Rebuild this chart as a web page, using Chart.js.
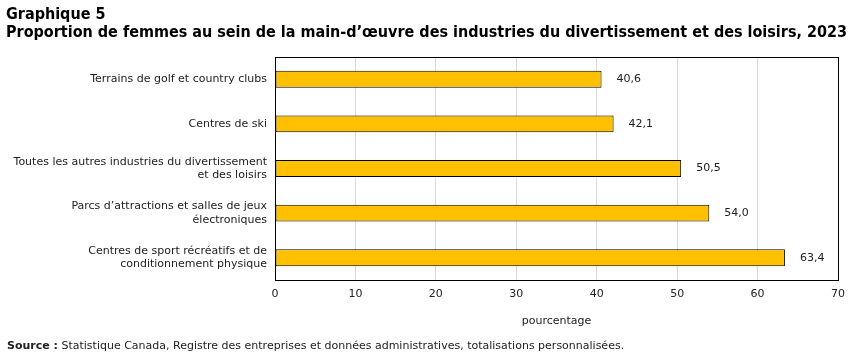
<!DOCTYPE html>
<html>
<head>
<meta charset="utf-8">
<script src="https://cdn.jsdelivr.net/npm/chart.js@4.4.1/dist/chart.umd.min.js"></script>
<style>
  body { margin: 0; background: #fff; }
  #wrap { position: relative; width: 862px; height: 360px; overflow: hidden; }
  #chart { position: absolute; left: 0; top: 0; }
  .title { position: absolute; left: 6px; font-family: "Liberation Sans Narrow", "DejaVu Sans Condensed", sans-serif; font-weight: bold; font-size: 16px; color: #000; white-space: nowrap; }
  #source { position: absolute; left: 7px; top: 339px; font-family: "DejaVu Sans", Verdana, sans-serif; font-size: 11px; color: #222; white-space: nowrap; }
</style>
</head>
<body>
<div id="wrap">
  <canvas id="chart" width="862" height="360"></canvas>
  <div class="title" style="top:4px;">Graphique 5</div>
  <div class="title" style="top:22px;">Proportion de femmes au sein de la main-d’œuvre des industries du divertissement et des loisirs, 2023</div>
  <div id="source"><b>Source :</b> Statistique Canada, Registre des entreprises et données administratives, totalisations personnalisées.</div>
</div>
<script>
var categories = [
    'Terrains de golf et country clubs',
    'Centres de ski',
    ['Toutes les autres industries du divertissement', 'et des loisirs'],
    ["Parcs d’attractions et salles de jeux", 'électroniques'],
    ['Centres de sport récréatifs et de', 'conditionnement physique']
];
var values = [40.6, 42.1, 50.5, 54.0, 63.4];
var xTicks = [0, 10, 20, 30, 40, 50, 60, 70];

var labelFont = { family: 'DejaVu Sans', size: 11 };

// box around the plot area
var frame = {
    id: 'frame',
    afterDatasetsDraw: function (chart) {
        var a = chart.chartArea;
        var ctx = chart.ctx;
        ctx.save();
        ctx.strokeStyle = '#000';
        ctx.lineWidth = 1;
        ctx.strokeRect(Math.round(a.left) + 0.5, Math.round(a.top) + 0.5, Math.round(a.right - a.left), Math.round(a.bottom - a.top));
        ctx.restore();
    }
};

// value labels right of each bar
var valueLabels = {
    id: 'valueLabels',
    afterDatasetsDraw: function (chart) {
        var ctx = chart.ctx;
        var meta = chart.getDatasetMeta(0);
        ctx.save();
        ctx.font = '11px "DejaVu Sans"';
        ctx.fillStyle = '#222';
        ctx.textBaseline = 'middle';
        ctx.textAlign = 'left';
        meta.data.forEach(function (bar, i) {
            var txt = values[i].toFixed(1).replace('.', ',');
            ctx.fillText(txt, bar.x + 15, bar.y);
        });
        ctx.restore();
    }
};

new Chart(document.getElementById('chart').getContext('2d'), {
    type: 'bar',
    data: {
        labels: categories,
        datasets: [{
            data: values,
            backgroundColor: '#FFC000',
            borderColor: '#000',
            borderWidth: 1,
            borderSkipped: false,
            barPercentage: 0.38,
            categoryPercentage: 1
        }]
    },
    options: {
        indexAxis: 'y',
        responsive: false,
        animation: false,
        layout: { padding: { top: 57, right: 24, bottom: 26, left: 0 } },
        plugins: {
            legend: { display: false },
            tooltip: { enabled: false }
        },
        scales: {
            x: {
                min: 0,
                max: 70,
                afterBuildTicks: function (scale) {
                    scale.ticks = xTicks.map(function (v) { return { value: v }; });
                },
                afterFit: function (scale) { scale.height = 54; },
                grid: { color: '#d9d9d9', drawTicks: false },
                border: { display: false },
                ticks: { font: labelFont, color: '#222', padding: 8 },
                title: {
                    display: true,
                    text: 'pourcentage',
                    font: labelFont,
                    color: '#222',
                    padding: { top: 0, bottom: 6 }
                }
            },
            y: {
                afterFit: function (scale) { scale.width = 275; },
                grid: { display: false, drawTicks: false },
                border: { display: false },
                ticks: { font: labelFont, color: '#222', padding: 8 }
            }
        }
    },
    plugins: [frame, valueLabels]
});
</script>
</body>
</html>
